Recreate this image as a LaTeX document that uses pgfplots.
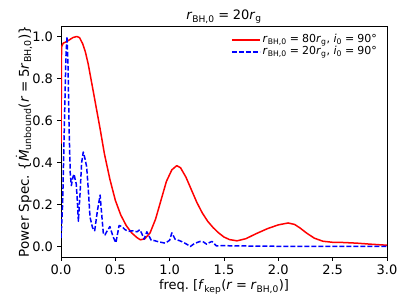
\documentclass[border=0pt]{standalone}
\usepackage{fontspec}
\setmainfont{DejaVu Sans}
\usepackage{amsmath}
\usepackage{pgfplots}
\pgfplotsset{compat=1.18}
\newcommand{\sbs}[1]{\textsubscript{#1}}
\newcommand{\eq}{\hspace{0.28em}=\hspace{0.28em}}
\begin{document}
\fontsize{13bp}{15bp}\selectfont
\begin{tikzpicture}
\begin{axis}[
  at={(0,0)}, anchor=south west,
  scale only axis, width=326bp, height=231bp,
  xmin=0, xmax=3, ymin=-0.05, ymax=1.05,
  xtick={0,0.5,1,1.5,2,2.5,3},
  ytick={0,0.2,0.4,0.6,0.8,1.0},
  /pgf/number format/assume math mode=true,
  /pgf/number format/.cd, fixed, fixed zerofill, precision=1, /pgfplots/.cd,
  tick align=outside, tick pos=left,
  major tick length=3.5bp,
  axis line style={line width=0.8bp},
  every tick/.style={black, line width=0.8bp},
  tick label style={font=\fontsize{13bp}{15bp}\selectfont},
  xlabel={freq.\ [\textit{f}\sbs{kep}(\textit{r}\eq\textit{r}\sbs{BH,0})]},
  every axis x label/.style={at={(axis description cs:0.5,-0.13)}, anchor=center, font=\fontsize{13bp}{15bp}\selectfont},
  ylabel={Power Spec.\ \{$\dot{\text{\textit{M}}}$\sbs{unbound}(\textit{r}\eq5\textit{r}\sbs{BH,0})\}},
  every axis y label/.style={at={(axis description cs:-0.1135,0.5)}, rotate=90, anchor=center, font=\fontsize{13.5bp}{15bp}\selectfont},
  title={\textit{r}\sbs{BH,0}\eq20\textit{r}\sbs{g}},
  every axis title/.style={at={(axis description cs:0.5,1.039)}, anchor=center, font=\fontsize{13bp}{15bp}\selectfont},
  legend style={at={(0.985,0.975)}, anchor=north east, draw=none, fill=none,
    font=\fontsize{11bp}{13bp}\selectfont, row sep=0bp,
    nodes={text height=8.5bp, text depth=3.5bp, inner ysep=0bp}},
  legend cell align=left,
  every axis plot post/.append style={line width=1.5bp, line join=round},
  legend image code/.code={\draw[line width=1.6bp,#1] (0bp,0bp) -- (28bp,0bp);},
]
\addplot[red, solid] coordinates {
(0,0.49)(0.005,0.95)(0.02,0.968)(0.05,0.975)(0.08,0.985)(0.11,0.995)(0.145,1.0)(0.17,0.995)(0.2,0.965)(0.225,0.925)(0.25,0.87)
(0.3,0.73)(0.36,0.56)(0.40,0.44)(0.45,0.32)(0.5,0.22)(0.55,0.15)(0.6,0.10)(0.65,0.065)(0.7,0.042)(0.73,0.032)(0.77,0.036)
(0.82,0.065)(0.87,0.13)(0.92,0.22)(0.97,0.31)(1.02,0.365)(1.065,0.385)(1.1,0.375)(1.15,0.33)(1.2,0.27)(1.25,0.21)(1.3,0.16)
(1.35,0.12)(1.4,0.09)(1.45,0.065)(1.5,0.045)(1.55,0.033)(1.62,0.027)(1.7,0.037)(1.8,0.062)(1.9,0.085)(2.0,0.103)(2.09,0.112)
(2.15,0.105)(2.2,0.088)(2.26,0.064)(2.33,0.04)(2.41,0.025)(2.5,0.02)(2.6,0.019)(2.72,0.016)(2.85,0.011)(3.0,0.006)
};
\addlegendentry{\textit{r}\sbs{BH,0}\eq80\textit{r}\sbs{g}, \textit{i}\sbs{0}\eq90°}
\addplot[blue, dash pattern=on 4.9bp off 2.1bp] coordinates {
(0,0.04)(0.015,0.2)(0.03,0.55)(0.045,0.9)(0.055,1.0)(0.065,0.85)(0.075,0.55)(0.085,0.35)(0.095,0.29)(0.11,0.33)(0.12,0.345)
(0.13,0.32)(0.14,0.30)(0.15,0.22)(0.16,0.12)(0.175,0.25)(0.19,0.40)(0.205,0.45)(0.22,0.42)(0.236,0.38)(0.25,0.28)(0.267,0.14)
(0.29,0.09)(0.31,0.075)(0.335,0.17)(0.36,0.245)(0.375,0.15)(0.39,0.06)(0.405,0.055)(0.42,0.07)(0.45,0.095)(0.48,0.045)
(0.505,0.018)(0.535,0.10)(0.56,0.095)(0.59,0.08)(0.62,0.072)(0.66,0.075)(0.70,0.07)(0.725,0.08)(0.745,0.06)(0.765,0.035)
(0.79,0.07)(0.81,0.05)(0.83,0.03)(0.86,0.028)(0.9,0.022)(0.96,0.016)(1.0,0.03)(1.02,0.065)(1.05,0.035)(1.09,0.028)(1.125,0.02)
(1.16,0.01)(1.19,0.0)(1.23,0.015)(1.28,0.024)(1.31,0.022)(1.34,0.011)(1.37,0.02)(1.39,0.024)(1.43,0.003)(1.5,0.004)(1.6,0.003)
(1.8,0.002)(2.0,0.001)(2.5,0.0)(3.0,0.0)
};
\addlegendentry{\textit{r}\sbs{BH,0}\eq20\textit{r}\sbs{g}, \textit{i}\sbs{0}\eq90°}
\end{axis}
\pgfresetboundingbox
\useasboundingbox (-61bp,-48bp) rectangle (346bp,257bp);
\end{tikzpicture}
\end{document}
